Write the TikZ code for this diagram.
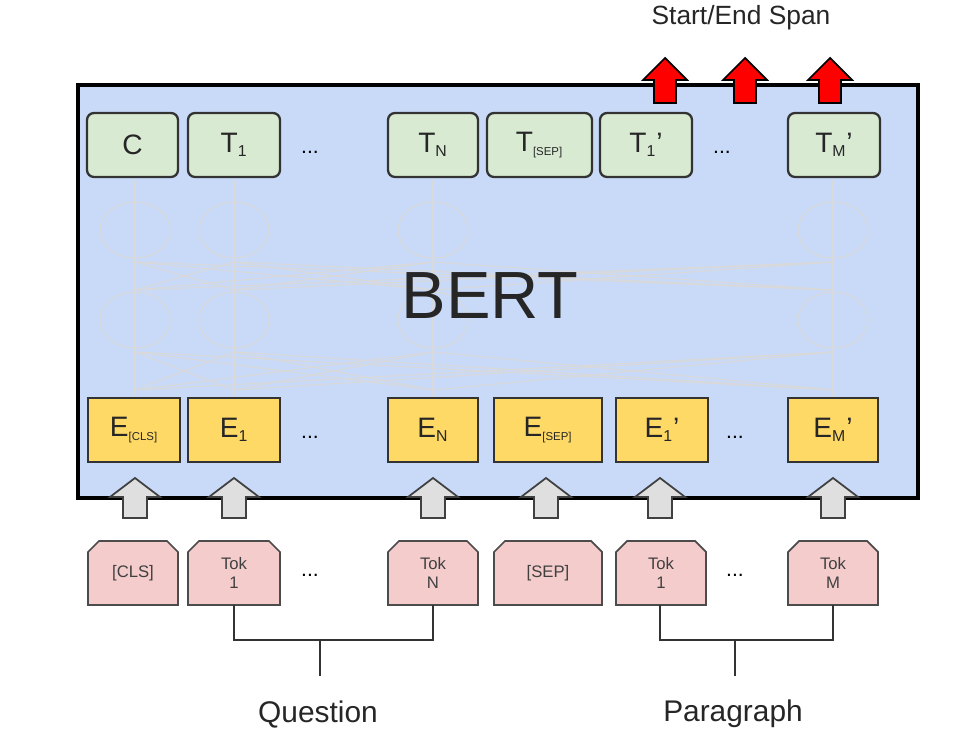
\documentclass[tikz,border=0pt]{standalone}
\usepackage{fontspec}
\setmainfont{Liberation Sans}
\definecolor{bertblue}{HTML}{C9DAF8}
\definecolor{tgreen}{HTML}{D9EAD3}
\definecolor{eyellow}{HTML}{FFD966}
\definecolor{tpink}{HTML}{F4CCCC}
\newcommand{\sbs}[1]{\textsubscript{\fontsize{9}{9}\selectfont #1}}
\newcommand{\sbt}[1]{\textsubscript{\fontsize{6.5}{7}\selectfont #1}}
\begin{document}
\begin{tikzpicture}[x=0.02cm,y=-0.02cm,
  tbox/.style={draw=black!80,line width=1.3pt,fill=tgreen,rounded corners=4pt,font=\fontsize{16}{18}\selectfont,text=black!85},
  ebox/.style={draw=black!80,line width=1pt,fill=eyellow,font=\fontsize{16}{18}\selectfont,text=black!85},
  tok/.style={draw=black!70,line width=1pt,fill=tpink},
  faint/.style={draw=gray!30,line width=0.6pt},
  garrow/.style={draw=black!75,line width=1pt,fill=gray!25},
  rarrow/.style={draw=black,line width=1pt,fill=red},
  brk/.style={draw=black!80,line width=1pt}]
\useasboundingbox (0,0) rectangle (970,756);
\node[draw=black,line width=2pt,fill=bertblue,minimum width=840*0.02cm,minimum height=413*0.02cm,anchor=north west] (bert) at (76,83) {};
% faint network
\foreach \x in {135,234,433,833}{
  \foreach \y in {230,320}{\draw[faint] (\x,\y) ellipse [x radius=35,y radius=28];}
  \draw[faint] (\x,180) -- (\x,398);}
\foreach \a in {135,234,433,833}{\foreach \b in {135,234,433,833}{
  \draw[faint] (\a,262) -- (\b,290); \draw[faint] (\a,352) -- (\b,390);}}
\node[font=\fontsize{38}{44}\selectfont,text=black!85] (bt) at (490,296) {BERT};
% top boxes
\foreach \n/\a/\b/\lab in {c/87/178/C, t1/188/280/T\sbs{1}, tn/388/478/T\sbs{N}, ts/487/592/T\sbt{[SEP]}, tp/600/692/T\sbs{1}', tm/788/880/T\sbs{M}'}{
  \node[tbox,minimum width={(\b-\a)*0.02cm},minimum height=1.28cm] (\n) at ({(\a+\b)/2},145) {\lab};}
\node (d1) at (310,152) {\fontsize{12}{12}\selectfont ...};
\node (d2) at (722,152) {\fontsize{12}{12}\selectfont ...};
% embeddings
\foreach \n/\a/\b/\lab in {ec/88/180/E\sbt{[CLS]}, e1/188/280/E\sbs{1}, en/388/478/E\sbs{N}, es/494/602/E\sbt{[SEP]}, ep/616/708/E\sbs{1}', em/788/878/E\sbs{M}'}{
  \node[ebox,minimum width={(\b-\a)*0.02cm},minimum height=1.28cm] (\n) at ({(\a+\b)/2},430) {\lab};}
\node (d3) at (310,437) {\fontsize{12}{12}\selectfont ...};
\node (d4) at (735,437) {\fontsize{12}{12}\selectfont ...};
% gray arrows
\foreach \x in {135,234,433,546,660,833}{
  \draw[garrow] (\x-12,518) -- (\x-12,497) -- (\x-25,497) -- (\x,478) -- (\x+25,497) -- (\x+12,497) -- (\x+12,518) -- cycle;}
% red arrows
\foreach \x in {665,745,830}{
  \draw[rarrow] (\x-11,103) -- (\x-11,80) -- (\x-22,80) -- (\x,58) -- (\x+22,80) -- (\x+11,80) -- (\x+11,103) -- cycle;}
\node[font=\fontsize{15}{18}\selectfont,text=black!85] (span) at (741,18) {Start/End Span};
% tokens
\foreach \n/\a/\b/\lab in {kc/88/178/[CLS], k1/188/280/Tok\\1, kn/388/478/Tok\\N, ks/494/602/[SEP], kp/616/706/Tok\\1, km/788/878/Tok\\M}{
  \draw[tok] (\a,605) -- (\a,552) -- (\a+11,541) -- (\b-11,541) -- (\b,552) -- (\b,605) -- cycle;
  \node[font=\fontsize{9.5}{11}\selectfont,align=center,text=black!75] (\n) at ({(\a+\b)/2},573) {\lab};}
\node (d5) at (310,575) {\fontsize{12}{12}\selectfont ...};
\node (d6) at (735,575) {\fontsize{12}{12}\selectfont ...};
% brackets
\coordinate (q1) at (234,605); \coordinate (q2) at (433,605);
\coordinate (qs) at (320,640); \coordinate (qe) at (320,676);
\draw[brk] (q1) -- (234,640) -- (433,640) -- (q2);
\draw[brk] (qs) -- (qe);
\coordinate (p1) at (660,605); \coordinate (p2) at (833,605);
\coordinate (ps) at (735,640); \coordinate (pe) at (735,676);
\draw[brk] (p1) -- (660,640) -- (833,640) -- (p2);
\draw[brk] (ps) -- (pe);
\node[font=\fontsize{17}{20}\selectfont,text=black!85] (q) at (318,714) {Question};
\node[font=\fontsize{17}{20}\selectfont,text=black!85] (p) at (733,714) {Paragraph};
\end{tikzpicture}
\end{document}
